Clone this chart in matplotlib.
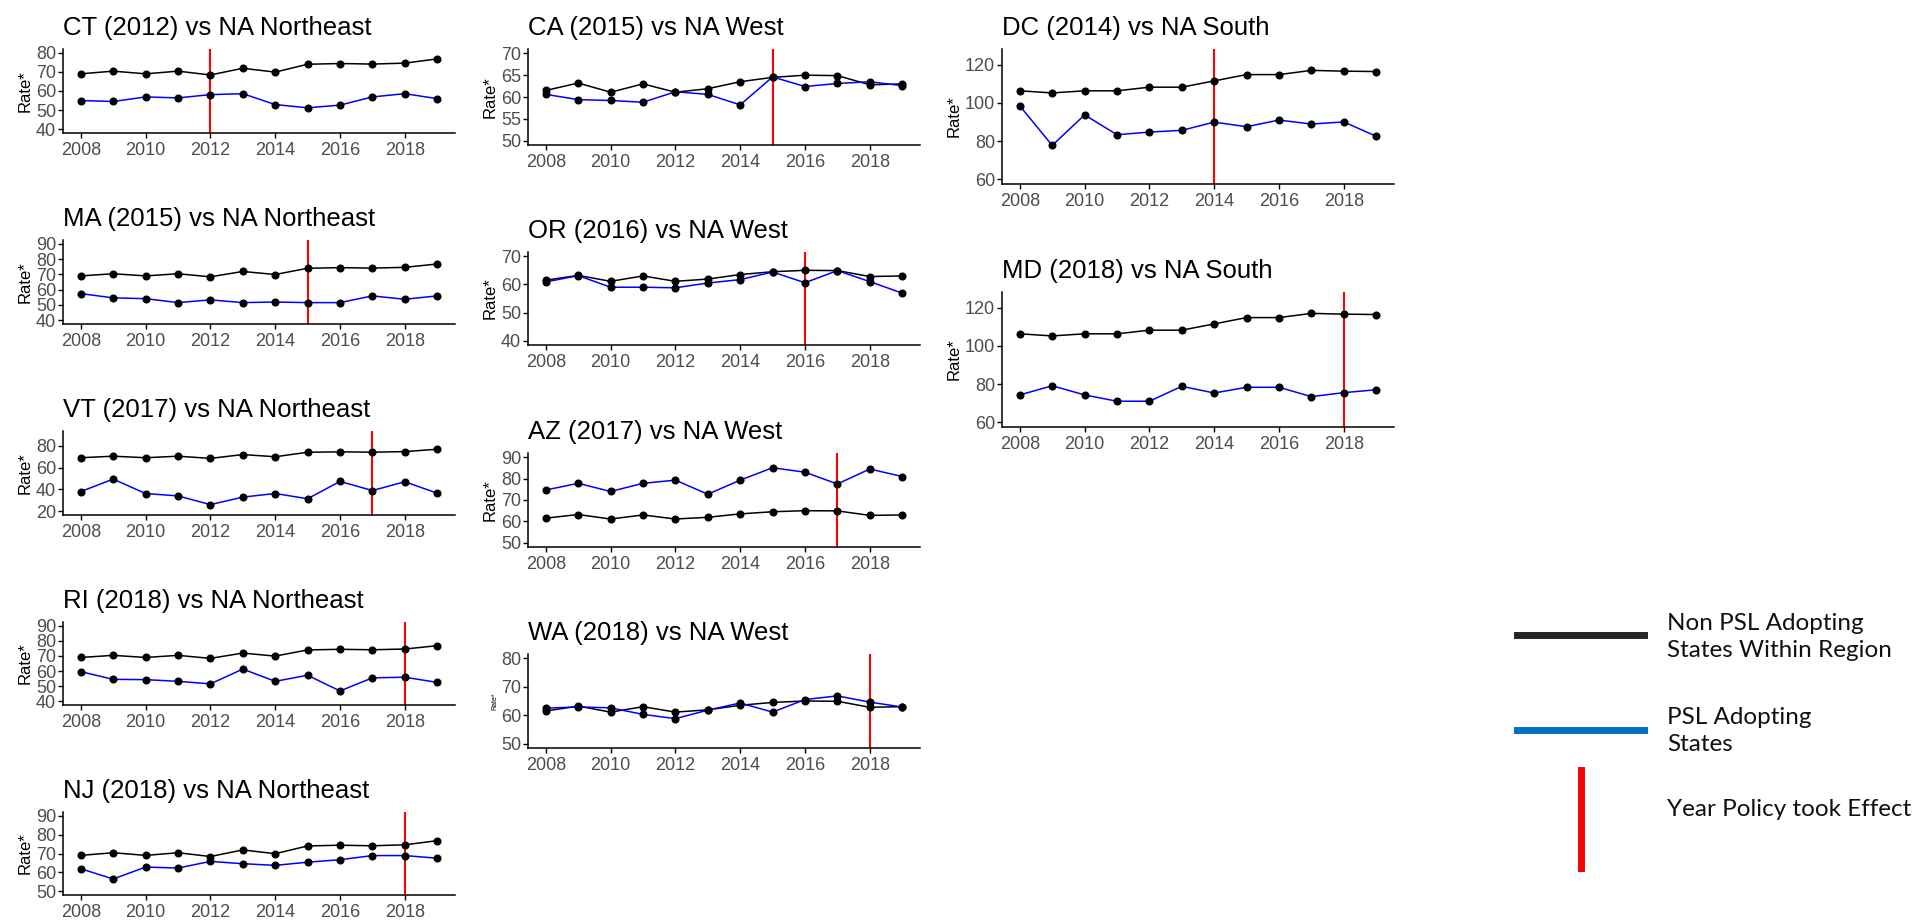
import numpy as np
import matplotlib.pyplot as plt
from matplotlib.lines import Line2D

# Data
years = list(range(2008, 2020))

northeast = [69.0, 70.4, 69.0, 70.4, 68.4, 71.9, 69.9, 74.0, 74.4, 74.1, 74.6, 76.8]
west = [61.5, 63.2, 61.1, 63.0, 61.1, 61.9, 63.5, 64.5, 65.0, 64.9, 62.8, 63.0]
south = [106.3, 105.2, 106.3, 106.3, 108.2, 108.2, 111.5, 114.8, 114.8, 117.0, 116.6, 116.4]

ct = [55.0, 54.5, 56.9, 56.4, 58.1, 58.6, 52.9, 51.2, 52.6, 56.9, 58.6, 56.0]
ma = [57.4, 54.6, 54.1, 51.5, 53.3, 51.5, 51.9, 51.5, 51.5, 55.9, 53.7, 55.9]
vt = [38.0, 49.4, 36.2, 34.0, 26.0, 32.9, 36.2, 31.4, 47.3, 38.9, 47.0, 36.5]
ri = [59.6, 54.5, 54.3, 53.2, 51.5, 61.3, 53.2, 57.2, 46.8, 55.5, 55.9, 52.5]
nj = [61.9, 56.5, 62.8, 62.3, 65.8, 64.6, 63.7, 65.4, 66.7, 68.9, 68.9, 67.5]
ca = [60.6, 59.4, 59.2, 58.8, 61.2, 60.6, 58.2, 64.6, 62.4, 63.1, 63.5, 62.6]
oregon = [60.9, 63.1, 59.0, 59.0, 58.8, 60.5, 61.7, 64.4, 60.6, 64.9, 61.0, 56.9]
az = [74.7, 77.8, 74.0, 77.8, 79.3, 72.7, 79.3, 85.1, 83.0, 77.5, 84.5, 81.0]
wa = [62.5, 62.9, 62.6, 60.3, 58.8, 61.8, 64.3, 61.1, 65.5, 66.8, 64.6, 62.9]
dc = [98.4, 77.7, 93.7, 83.3, 84.7, 85.6, 89.9, 87.5, 91.0, 88.9, 90.0, 82.5]
md = [74.3, 79.1, 74.3, 71.0, 71.0, 78.8, 75.3, 78.3, 78.3, 73.4, 75.5, 77.0]

titles = ["CT (2012) vs NA Northeast", "MA (2015) vs NA Northeast", "VT (2017) vs NA Northeast",
          "RI (2018) vs NA Northeast", "NJ (2018) vs NA Northeast",
          "CA (2015) vs NA West", "OR (2016) vs NA West", "AZ (2017) vs NA West", "WA (2018) vs NA West",
          "DC (2014) vs NA South", "MD (2018) vs NA South"]
policy_years = [2012, 2015, 2017, 2018, 2018, 2015, 2016, 2017, 2018, 2014, 2018]
state_rates = [ct, ma, vt, ri, nj, ca, oregon, az, wa, dc, md]
region_rates = [northeast] * 5 + [west] * 4 + [south] * 2
y_ticks = [[40, 50, 60, 70, 80], [40, 50, 60, 70, 80, 90], [20, 40, 60, 80],
           [40, 50, 60, 70, 80, 90], [50, 60, 70, 80, 90],
           [50, 55, 60, 65, 70], [40, 50, 60, 70], [50, 60, 70, 80, 90], [50, 60, 70, 80],
           [60, 80, 100, 120], [60, 80, 100, 120]]

legend_labels = ["Non PSL Adopting\nStates Within Region", "PSL Adopting\nStates",
                 "Year Policy took Effect"]

# layout in pixels: (left, top, bottom) and y limits
W, H = 1918, 923
boxes = [(63, 49, 133), (63, 240, 324), (63, 431, 515), (63, 622, 705), (63, 812, 895),
         (528, 49, 145), (528, 252, 345), (528, 453, 547), (528, 654, 748),
         (1002, 49, 184), (1002, 292, 427)]
ylims = [(38, 82), (37.5, 92.5), (16.5, 93.5), (37.5, 92.5), (48, 92),
         (49, 71), (38.5, 71.5), (48, 92), (48.5, 81.5),
         (57.5, 128.2), (57.5, 128.2)]
panel_w = 392

fig = plt.figure(figsize=(W / 100, H / 100), dpi=100)
plt.rcParams['font.family'] = ['Liberation Sans', 'DejaVu Sans']

for i in range(len(titles)):
    left, top, bottom = boxes[i]
    ax = fig.add_axes([left / W, 1 - bottom / H, panel_w / W, (bottom - top) / H])
    ax.axvline(policy_years[i], color='#FF0000', lw=1.5, zorder=1)
    ax.plot(years, region_rates[i], color='black', lw=1.1, marker='o', ms=4.8, zorder=2)
    ax.plot(years, state_rates[i], color='#0000FF', lw=1.1, zorder=3)
    ax.plot(years, state_rates[i], color='black', lw=0, marker='o', ms=4.8, zorder=4)
    ax.set_xlim(2007.45, 2019.55)
    ax.set_ylim(*ylims[i])
    ax.set_xticks([2008, 2010, 2012, 2014, 2016, 2018])
    ax.set_yticks(y_ticks[i])
    for s in ['top', 'right']:
        ax.spines[s].set_visible(False)
    for s in ['left', 'bottom']:
        ax.spines[s].set_linewidth(1.1)
    ax.tick_params(axis='both', labelsize=13, labelcolor='#4D4D4D', length=3.5, width=1.0)
    ax.tick_params(axis='y', pad=1.5)
    ax.tick_params(axis='x', pad=3)
    ax.set_title(titles[i], loc='left', fontsize=18.5, pad=10)
    if titles[i].startswith("WA"):
        ax.set_ylabel("Rate*", fontsize=5, labelpad=2)
    else:
        ax.set_ylabel("Rate*", fontsize=12, labelpad=2)

# legend drawn by hand
fig.add_artist(Line2D([1517 / W, 1644 / W], [1 - 635 / H, 1 - 635 / H], color='#262626', lw=5,
                      transform=fig.transFigure))
fig.add_artist(Line2D([1517 / W, 1644 / W], [1 - 730 / H, 1 - 730 / H], color='#0070C0', lw=5,
                      transform=fig.transFigure))
fig.add_artist(Line2D([1581 / W, 1581 / W], [1 - 770 / H, 1 - 868 / H], color='#FF0000', lw=5,
                      transform=fig.transFigure))
fig.text(1667 / W, 1 - 637 / H, legend_labels[0], fontsize=17.5, family='Lato', va='center',
         linespacing=1.4, color='#111111')
fig.text(1667 / W, 1 - 731 / H, legend_labels[1], fontsize=17.5, family='Lato', va='center',
         linespacing=1.4, color='#111111')
fig.text(1667 / W, 1 - 810 / H, legend_labels[2], fontsize=17.5, family='Lato', va='center',
         color='#111111')

fig.savefig("out.png", dpi=100)
